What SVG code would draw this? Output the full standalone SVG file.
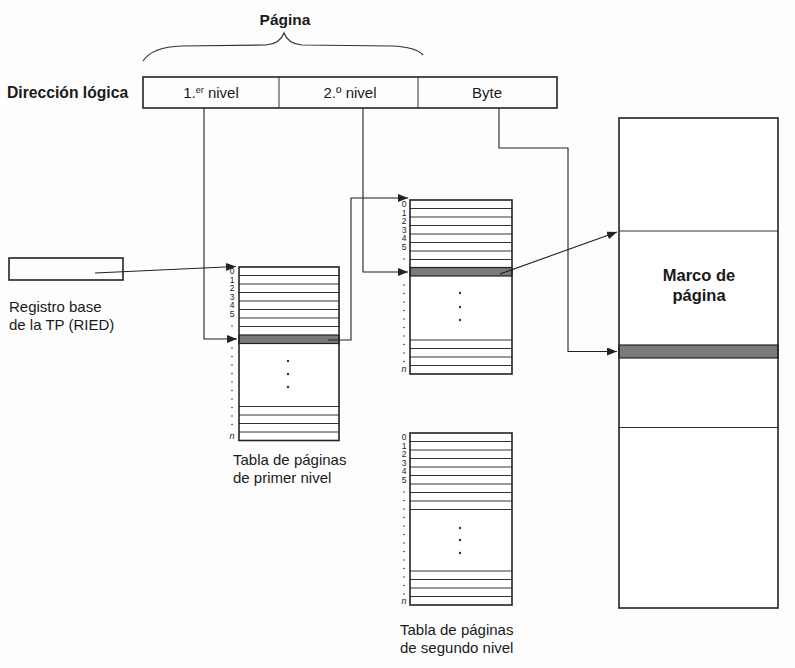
<svg xmlns="http://www.w3.org/2000/svg" width="795" height="668" viewBox="0 0 795 668">
<defs>
<marker id="ah" markerUnits="userSpaceOnUse" markerWidth="10" markerHeight="8" refX="10" refY="4" orient="auto">
<path d="M0,0 L10,4 L0,8 z" fill="#222"/>
</marker>
<style>
text{font-family:"Liberation Sans",Arial,sans-serif;fill:#1a1a1a}
.b{font-weight:bold}
.lbl{font-size:15px}
.idx{font-size:8.5px;text-anchor:middle}
.n{font-size:9px;font-style:italic;text-anchor:middle}
.box{fill:none;stroke:#222;stroke-width:1.6}
.row{stroke:#333;stroke-width:1}
.sh{fill:#7a7a7a;stroke:#222;stroke-width:1.2}
.con{fill:none;stroke:#222;stroke-width:1.1}
.dot{fill:#333}
</style>
</defs>
<rect width="795" height="668" fill="#fdfdfd"/>

<g id="pagina">
<text class="b" x="285" y="25" font-size="15.5" text-anchor="middle">Página</text>
<path d="M143,61 Q152,47 182,46 L266,45 Q280,44 284,33 Q288,44 302,45 L392,46 Q416,47 423,55" fill="none" stroke="#333" stroke-width="1.2"/>
</g>

<g id="direccion">
<text class="b" x="7" y="98" font-size="15.7">Dirección lógica</text>
<rect class="box" x="143" y="77" width="414" height="31"/>
<line class="row" x1="279" y1="77" x2="279" y2="108"/>
<line class="row" x1="418" y1="77" x2="418" y2="108"/>
<text class="lbl" x="211" y="98" text-anchor="middle">1.<tspan font-size="9" dy="-5">er</tspan><tspan dy="5"> nivel</tspan></text>
<text class="lbl" x="350" y="98" text-anchor="middle">2.º  nivel</text>
<text class="lbl" x="487" y="98" text-anchor="middle">Byte</text>
</g>

<g id="registro">
<rect class="box" x="9" y="258" width="114" height="22"/>
<text class="lbl" x="9" y="312">Registro base</text>
<text class="lbl" x="9" y="330">de la TP (RIED)</text>
</g>

<g id="tabla1">
<rect x="239" y="267" width="100" height="173.5" fill="#fff"/>
<g class="row">
<line x1="239" y1="275.5" x2="339" y2="275.5"/><line x1="239" y1="284" x2="339" y2="284"/>
<line x1="239" y1="292.5" x2="339" y2="292.5"/><line x1="239" y1="301" x2="339" y2="301"/>
<line x1="239" y1="309.5" x2="339" y2="309.5"/><line x1="239" y1="318" x2="339" y2="318"/>
<line x1="239" y1="326.5" x2="339" y2="326.5"/>
<line x1="239" y1="406.5" x2="339" y2="406.5"/><line x1="239" y1="415" x2="339" y2="415"/>
<line x1="239" y1="423.5" x2="339" y2="423.5"/><line x1="239" y1="432" x2="339" y2="432"/>
</g>
<rect class="sh" x="239" y="335" width="100" height="8.5"/>
<rect class="box" x="239" y="267" width="100" height="173.5"/>
<circle class="dot" cx="288" cy="361" r="1.2"/><circle class="dot" cx="288" cy="374" r="1.2"/><circle class="dot" cx="288" cy="387" r="1.2"/>
<text class="idx" x="232" y="274.3">0</text><text class="idx" x="232" y="282.8">1</text><text class="idx" x="232" y="291.3">2</text>
<text class="idx" x="232" y="299.8">3</text><text class="idx" x="232" y="308.3">4</text><text class="idx" x="232" y="316.8">5</text>
<g class="dot">
<circle cx="232" cy="326" r="0.8"/><circle cx="232" cy="348" r="0.8"/><circle cx="232" cy="356.5" r="0.8"/><circle cx="232" cy="365" r="0.8"/>
<circle cx="232" cy="373.5" r="0.8"/><circle cx="232" cy="382" r="0.8"/><circle cx="232" cy="390.5" r="0.8"/><circle cx="232" cy="399" r="0.8"/>
<circle cx="232" cy="407.5" r="0.8"/><circle cx="232" cy="416" r="0.8"/><circle cx="232" cy="424.5" r="0.8"/>
</g>
<text class="n" x="232" y="439">n</text>
<text class="lbl" x="233" y="465">Tabla de páginas</text>
<text class="lbl" x="233" y="483">de primer nivel</text>
</g>

<g id="tabla2a">
<rect x="410" y="200" width="102" height="174" fill="#fff"/>
<g class="row">
<line x1="410" y1="208.5" x2="512" y2="208.5"/><line x1="410" y1="217" x2="512" y2="217"/>
<line x1="410" y1="225.5" x2="512" y2="225.5"/><line x1="410" y1="234" x2="512" y2="234"/>
<line x1="410" y1="242.5" x2="512" y2="242.5"/><line x1="410" y1="251" x2="512" y2="251"/>
<line x1="410" y1="259.5" x2="512" y2="259.5"/>
<line x1="410" y1="340" x2="512" y2="340"/><line x1="410" y1="348.5" x2="512" y2="348.5"/>
<line x1="410" y1="357" x2="512" y2="357"/><line x1="410" y1="365.5" x2="512" y2="365.5"/>
</g>
<rect class="sh" x="410" y="267.5" width="102" height="8.5"/>
<rect class="box" x="410" y="200" width="102" height="174"/>
<circle class="dot" cx="460" cy="293" r="1.2"/><circle class="dot" cx="460" cy="307" r="1.2"/><circle class="dot" cx="460" cy="320" r="1.2"/>
<text class="idx" x="404" y="207.3">0</text><text class="idx" x="404" y="215.8">1</text><text class="idx" x="404" y="224.3">2</text>
<text class="idx" x="404" y="232.8">3</text><text class="idx" x="404" y="241.3">4</text><text class="idx" x="404" y="249.8">5</text>
<g class="dot">
<circle cx="404" cy="259" r="0.8"/><circle cx="404" cy="285" r="0.8"/><circle cx="404" cy="293.5" r="0.8"/><circle cx="404" cy="302" r="0.8"/>
<circle cx="404" cy="310.5" r="0.8"/><circle cx="404" cy="319" r="0.8"/><circle cx="404" cy="327.5" r="0.8"/><circle cx="404" cy="336" r="0.8"/>
<circle cx="404" cy="344.5" r="0.8"/><circle cx="404" cy="353" r="0.8"/><circle cx="404" cy="361.5" r="0.8"/>
</g>
<text class="n" x="404" y="372">n</text>
</g>

<g id="tabla2b">
<rect x="410" y="433" width="102" height="172" fill="#fff"/>
<g class="row">
<line x1="410" y1="441.5" x2="512" y2="441.5"/><line x1="410" y1="450" x2="512" y2="450"/>
<line x1="410" y1="458.5" x2="512" y2="458.5"/><line x1="410" y1="467" x2="512" y2="467"/>
<line x1="410" y1="475.5" x2="512" y2="475.5"/><line x1="410" y1="484" x2="512" y2="484"/>
<line x1="410" y1="492.5" x2="512" y2="492.5"/><line x1="410" y1="501" x2="512" y2="501"/>
<line x1="410" y1="509.5" x2="512" y2="509.5"/>
<line x1="410" y1="571" x2="512" y2="571"/><line x1="410" y1="579.5" x2="512" y2="579.5"/>
<line x1="410" y1="588" x2="512" y2="588"/><line x1="410" y1="596.5" x2="512" y2="596.5"/>
</g>
<rect class="box" x="410" y="433" width="102" height="172"/>
<circle class="dot" cx="460" cy="528" r="1.2"/><circle class="dot" cx="460" cy="540" r="1.2"/><circle class="dot" cx="460" cy="553" r="1.2"/>
<text class="idx" x="404" y="440.3">0</text><text class="idx" x="404" y="448.8">1</text><text class="idx" x="404" y="457.3">2</text>
<text class="idx" x="404" y="465.8">3</text><text class="idx" x="404" y="474.3">4</text><text class="idx" x="404" y="482.8">5</text>
<g class="dot">
<circle cx="404" cy="492" r="0.8"/><circle cx="404" cy="500.5" r="0.8"/><circle cx="404" cy="509" r="0.8"/><circle cx="404" cy="517.5" r="0.8"/>
<circle cx="404" cy="526" r="0.8"/><circle cx="404" cy="534.5" r="0.8"/><circle cx="404" cy="543" r="0.8"/><circle cx="404" cy="551.5" r="0.8"/>
<circle cx="404" cy="560" r="0.8"/><circle cx="404" cy="568.5" r="0.8"/><circle cx="404" cy="577" r="0.8"/><circle cx="404" cy="585.5" r="0.8"/>
<circle cx="404" cy="594" r="0.8"/>
</g>
<text class="n" x="404" y="604">n</text>
<text class="lbl" x="400" y="635">Tabla de páginas</text>
<text class="lbl" x="400" y="653">de segundo nivel</text>
</g>

<g id="marco">
<rect x="619" y="118" width="159" height="490" fill="#fff"/>
<line class="row" x1="619" y1="231" x2="778" y2="231" stroke-width="1.4"/>
<rect class="sh" x="619" y="345" width="159" height="13"/>
<line class="row" x1="619" y1="427.5" x2="778" y2="427.5" stroke-width="1.4"/>
<rect class="box" x="619" y="118" width="159" height="490"/>
<text class="b" x="699" y="281" font-size="16.5" text-anchor="middle">Marco de</text>
<text class="b" x="699" y="301" font-size="16.5" text-anchor="middle">página</text>
</g>

<g id="connectors">
<path class="con" d="M95,273 L236,266.5" marker-end="url(#ah)"/>
<path class="con" d="M204,108 L204,339 L237,339" marker-end="url(#ah)"/>
<path class="con" d="M363,108 L363,272 L408,272" marker-end="url(#ah)"/>
<path class="con" d="M328,340 L351,340 L351,198 L408,198" marker-end="url(#ah)"/>
<path class="con" d="M499,108 L499,148 L568,148 L568,351.5 L617,351.5" marker-end="url(#ah)"/>
<path class="con" d="M500,274 L617,232" marker-end="url(#ah)"/>
</g>
</svg>
